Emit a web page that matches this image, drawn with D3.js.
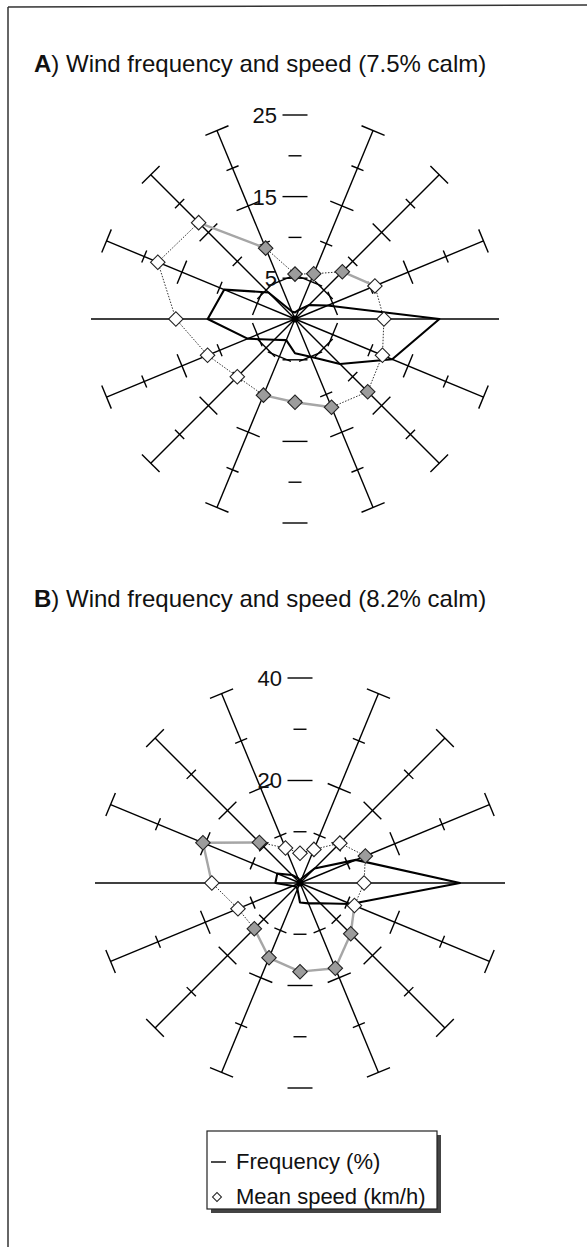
<!DOCTYPE html>
<html>
<head>
<meta charset="utf-8">
<script src="https://cdn.jsdelivr.net/npm/d3@7"></script>
<style>
  body { margin: 0; background: #fff; }
  text { font-family: "Liberation Sans", Arial, Helvetica, sans-serif; fill: #111; }
</style>
</head>
<body>
<svg id="chart" width="587" height="1247"></svg>
<script>
// 16 compass directions, clockwise from north
const directions = ['N', 'NNE', 'NE', 'ENE', 'E', 'ESE', 'SE', 'SSE', 'S', 'SSW', 'SW', 'WSW', 'W', 'WNW', 'NW', 'NNW'];

// Panel A
const freqA = [0.8, 1.2, 2.4, 4.3, 17.7, 12.9, 7.8, 5.0, 4.2, 2.8, 3.6, 6.3, 10.7, 9.4, 4.6, 1.0];
const speedA = [5.5, 6.0, 8.2, 10.6, 10.9, 11.6, 12.6, 11.7, 10.2, 10.1, 10.0, 11.6, 14.6, 18.2, 16.7, 9.4];
const shadedA = [1, 1, 1, 0, 0, 0, 1, 1, 1, 1, 0, 0, 0, 0, 0, 1];
const greySegA = [2, 7, 8, 14]; // segment i joins direction i and i + 1
const ticksA = [5, 10, 15, 20, 25];
const labelsA = [5, 15, 25];

// Panel B
const freqB = [0.5, 1.0, 4.0, 11.8, 31.2, 10.7, 5.6, 4.3, 3.8, 1.3, 1.0, 1.5, 4.8, 4.8, 2.2, 1.0];
const speedB = [5.8, 7.1, 11.0, 13.8, 12.5, 11.5, 14.0, 18.0, 17.3, 15.8, 12.6, 13.1, 17.2, 20.5, 11.2, 7.4];
const shadedB = [0, 0, 0, 1, 0, 0, 1, 1, 1, 1, 1, 0, 0, 1, 1, 0];
const greySegB = [5, 6, 7, 8, 9, 12, 13];
const ticksB = [10, 20, 30, 40];
const labelsB = [20, 40];

const panels = [
  { letter: 'A', title: ') Wind frequency and speed (7.5% calm)', titleY: 72, cx: 295, cy: 319, rMax: 204,
    freq: freqA, speed: speedA, shaded: shadedA, greySeg: greySegA, ticks: ticksA, labels: labelsA },
  { letter: 'B', title: ') Wind frequency and speed (8.2% calm)', titleY: 607, cx: 300, cy: 883, rMax: 205,
    freq: freqB, speed: speedB, shaded: shadedB, greySeg: greySegB, ticks: ticksB, labels: labelsB },
];

const svg = d3.select('#chart');

// scanned page frame
svg.append('line').attr('x1', 8).attr('y1', 7).attr('x2', 587).attr('y2', 5)
  .attr('stroke', '#333').attr('stroke-width', 1.5);
svg.append('line').attr('x1', 8).attr('y1', 7).attr('x2', 8).attr('y2', 1247)
  .attr('stroke', '#333').attr('stroke-width', 1.5);

const diamond = d3.symbol(d3.symbolSquare, 105);

function drawRose(p) {
  const max = d3.max(p.ticks);
  const step = p.ticks[1] - p.ticks[0];
  const r = d3.scaleLinear().domain([0, max]).range([0, p.rMax]);
  const angle = i => i * 2 * Math.PI / directions.length;
  const pt = (i, v) => [Math.sin(angle(i)) * r(v), -Math.cos(angle(i)) * r(v)];

  svg.append('text')
    .attr('x', 34).attr('y', p.titleY)
    .attr('font-size', 24)
    .call(t => t.append('tspan').attr('font-weight', 'bold').text(p.letter))
    .call(t => t.append('tspan').text(p.title));

  const g = svg.append('g').attr('transform', `translate(${p.cx},${p.cy})`);

  // east-west line, no ticks
  g.append('line').attr('x1', -r(max)).attr('x2', r(max))
    .attr('stroke', '#000').attr('stroke-width', 1.4);

  // spokes with ticks; N/S carry ticks only, E/W are the plain line above
  directions.forEach((d, i) => {
    if (d === 'E' || d === 'W') return;
    const sg = g.append('g').attr('transform', `rotate(${i * 22.5})`);
    if (d !== 'N' && d !== 'S') {
      sg.append('line').attr('y2', -r(max)).attr('stroke', '#000').attr('stroke-width', 1.4);
    }
    p.ticks.forEach(t => {
      const long = ((max - t) / step) % 2 === 0;
      const half = long ? 12.5 : 6.5;
      sg.append('line')
        .attr('x1', -half).attr('x2', half)
        .attr('y1', -r(t)).attr('y2', -r(t))
        .attr('stroke', '#000').attr('stroke-width', 1.4);
    });
  });

  // axis labels on the north tick column
  g.selectAll('text.lab').data(p.labels).enter().append('text')
    .attr('class', 'lab')
    .attr('x', -18).attr('y', t => -r(t))
    .attr('dy', '0.36em')
    .attr('text-anchor', 'end')
    .attr('font-size', 22)
    .text(t => t);

  const radial = vals => d3.lineRadial()
    .angle((v, i) => angle(i))
    .radius(v => r(v))
    .curve(d3.curveLinearClosed)(vals);

  // mean speed outline: thin dotted, with grey solid stretches
  g.append('path').attr('d', radial(p.speed))
    .attr('fill', 'none').attr('stroke', '#333').attr('stroke-width', 1)
    .attr('stroke-dasharray', '1.5,1.5');
  p.greySeg.forEach(s => {
    const a = pt(s, p.speed[s]);
    const b = pt((s + 1) % directions.length, p.speed[(s + 1) % directions.length]);
    g.append('line').attr('x1', a[0]).attr('y1', a[1]).attr('x2', b[0]).attr('y2', b[1])
      .attr('stroke', '#a6a6a6').attr('stroke-width', 2.4);
  });

  // frequency polygon
  g.append('path').attr('d', radial(p.freq))
    .attr('fill', 'none').attr('stroke', '#000').attr('stroke-width', 2.1)
    .attr('stroke-linejoin', 'round');

  g.append('circle').attr('r', 3.5).attr('fill', '#000');

  // mean speed markers
  g.selectAll('path.dia').data(p.speed).enter().append('path')
    .attr('class', 'dia')
    .attr('d', diamond)
    .attr('transform', (v, i) => {
      const [x, y] = pt(i, v);
      return `translate(${x},${y}) rotate(45)`;
    })
    .attr('fill', (v, i) => p.shaded[i] ? '#9c9c9c' : '#fff')
    .attr('stroke', '#222').attr('stroke-width', 1.1);
}

panels.forEach(drawRose);

// legend
const lg = svg.append('g');
lg.append('rect').attr('x', 211).attr('y', 1135).attr('width', 230).attr('height', 78).attr('fill', '#444');
lg.append('rect').attr('x', 207).attr('y', 1131).attr('width', 230).attr('height', 78)
  .attr('fill', '#fff').attr('stroke', '#222').attr('stroke-width', 1.2);
lg.append('line').attr('x1', 211).attr('x2', 226).attr('y1', 1162).attr('y2', 1162)
  .attr('stroke', '#111').attr('stroke-width', 1.5);
lg.append('text').attr('x', 236).attr('y', 1169).attr('font-size', 22).text('Frequency (%)');
lg.append('path').attr('d', d3.symbol(d3.symbolSquare, 40)())
  .attr('transform', 'translate(217,1197) rotate(45)')
  .attr('fill', '#fff').attr('stroke', '#222').attr('stroke-width', 1);
lg.append('text').attr('x', 236).attr('y', 1204).attr('font-size', 22).text('Mean speed (km/h)');
</script>
</body>
</html>
